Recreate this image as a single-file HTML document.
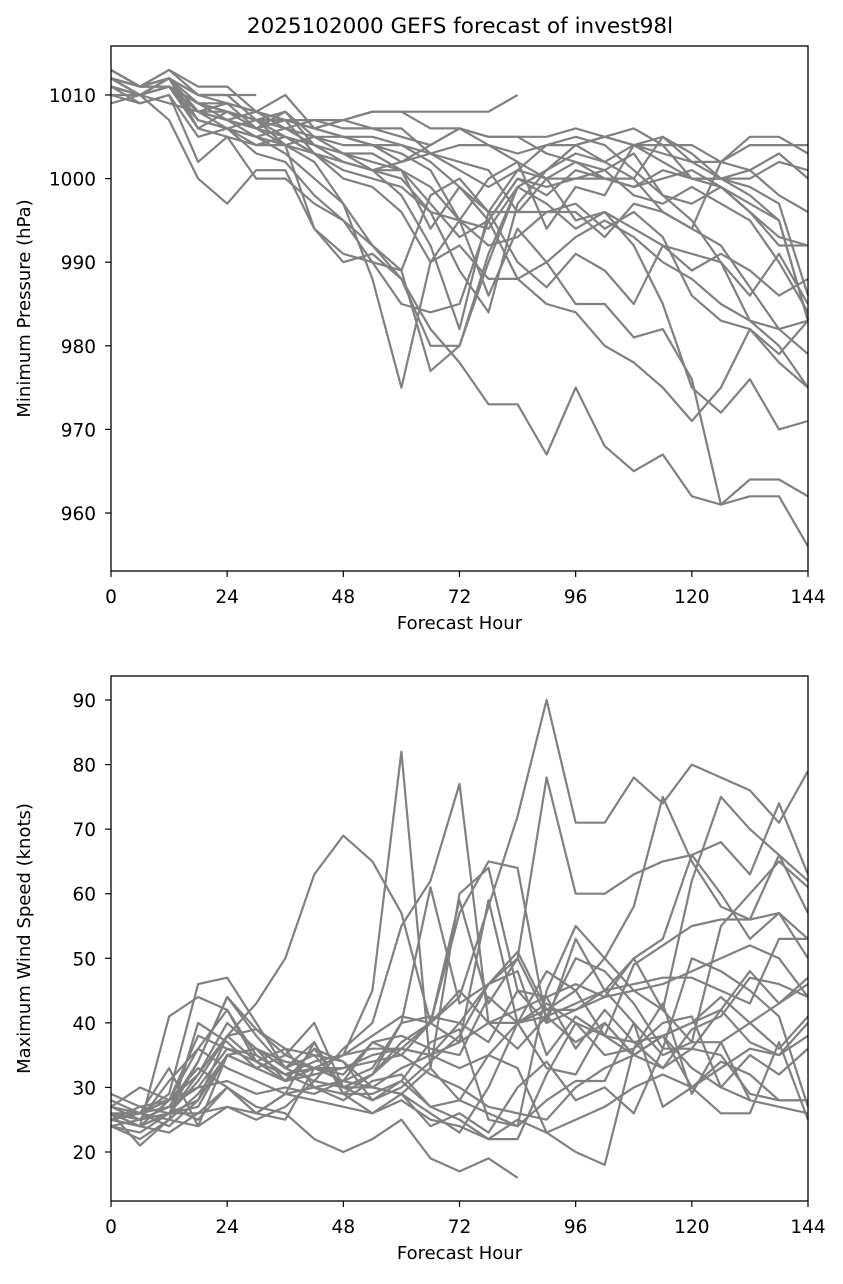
<!DOCTYPE html>
<html><head><meta charset="utf-8"><style>
body{margin:0;background:#fff;}
svg text{font-family:"DejaVu Sans","Liberation Sans",sans-serif;fill:#000;}
</style></head><body>
<svg id="fig" width="843" height="1279" viewBox="0 0 843 1279" xmlns="http://www.w3.org/2000/svg">
<rect width="843" height="1279" fill="#fff"/>
<text x="460" y="33" font-size="21.5" text-anchor="middle">2025102000 GEFS forecast of invest98l</text>
<g id="top"></g>
<g id="bot"></g>
</svg>
<script>
const hours = [0,6,12,18,24,30,36,42,48,54,60,66,72,78,84,90,96,102,108,114,120,126,132,138,144];
const xTicks = [0,24,48,72,96,120,144];
const pTicks = [960,970,980,990,1000,1010];
const wTicks = [20,30,40,50,60,70,80,90];
const pressure = [
[1011,1010,1012,1009,1008,1006,1004,1002,997,992,988,982,978,973,973,967,975,968,965,967,962,961,962,962,956],
[1012,1011,1012,1008,1007,1005,1003,1000,997,988,975,990,995,986,994,990,985,985,981,982,976,961,964,964,962],
[1011,1010,1007,1000,997,1001,1001,994,991,990,989,977,980,990,999,1001,1004,1005,1004,1002,1000,999,997,995,983],
[1013,1011,1013,1010,1010,1007,1004,994,990,991,988,980,980,991,999,1001,1004,1005,1004,1003,1002,1000,998,995,983],
[1012,1010,1011,1007,1006,1003,1002,998,995,990,985,984,985,995,1000,998,1001,1000,999,1001,1000,1000,999,997,986],
[1011,1010,1011,1006,1008,1007,1008,1004,1003,1001,998,992,982,996,990,987,991,989,985,992,991,990,983,980,975],
[1010,1010,1011,1009,1009,1008,1006,1005,1003,1002,1001,994,999,995,1000,999,1000,1000,1000,1005,1003,1000,1000,1002,1001],
[1012,1011,1013,1011,1011,1008,1010,1006,1007,1008,1008,1006,1006,1005,1005,1005,1006,1005,1006,1004,1004,1002,1004,1004,1004],
[1009,1010,1009,1008,1007,1008,1007,1007,1007,1008,1008,1008,1008,1008,1010],
[1012,1011,1012,1010,1010,1010],
[1011,1010,1012,1006,1005,1004,1005,1003,1001,1000,999,996,995,994,999,997,994,996,994,992,989,991,989,986,988],
[1012,1011,1011,1008,1007,1006,1005,1004,1002,1001,1000,996,989,984,997,1001,1003,1002,1004,1005,1002,1002,1005,1005,1003],
[1012,1010,1011,1009,1008,1006,1007,1006,1005,1005,1004,1003,1002,1001,996,1000,1002,1001,1003,998,995,990,986,991,985],
[1013,1011,1012,1007,1006,1007,1006,1004,1003,1003,1001,999,995,1000,1002,994,999,998,1004,1004,1000,1000,1001,998,996],
[1011,1009,1010,1005,1006,1004,1004,1005,1005,1004,1003,1001,995,992,993,996,996,993,997,996,994,992,987,982,983],
[1012,1010,1012,1008,1009,1006,1007,1003,1002,1001,1002,1003,1004,1004,1003,1004,1005,1004,1001,998,997,999,996,993,992],
[1011,1010,1011,1009,1007,1006,1008,1005,1004,1004,1002,1004,1006,1005,1005,1003,1002,1000,999,1000,1001,999,996,992,992],
[1012,1011,1011,1007,1006,1005,1006,1007,1006,1006,1006,1003,1001,999,1001,1000,1000,1001,998,997,999,997,995,990,984],
[1011,1010,1011,1009,1008,1007,1005,1003,1000,999,996,990,992,988,988,990,993,995,993,990,988,985,983,982,979],
[1012,1011,1012,1008,1008,1007,1007,1006,1007,1006,1005,1004,1006,1004,1002,1000,995,996,992,985,975,972,976,970,971],
[1013,1011,1012,1010,1009,1008,1007,1006,1005,1004,1004,1002,999,996,996,996,997,994,996,993,986,983,982,979,983],
[1011,1010,1012,1008,1006,1005,1004,1003,1002,1001,1001,997,993,995,988,985,984,980,978,975,971,975,982,978,975],
[1010,1009,1010,1002,1005,1000,1000,997,995,992,989,998,1000,996,1001,1004,1004,1002,1000,996,994,1002,1001,1003,1000]
];
const wind = [
[25,26,24,28,35,33,31,32,33,35,36,40,44,58,72,90,71,71,78,74,80,78,76,71,79],
[26,25,27,30,36,34,32,33,35,45,82,33,60,64,45,40,42,45,50,53,66,60,53,57,50],
[27,26,28,32,38,43,50,63,69,65,57,40,45,40,40,43,40,38,35,38,40,44,40,36,41],
[25,24,26,34,44,38,33,31,36,40,55,62,77,40,36,41,37,40,35,33,36,42,37,35,38],
[25,26,25,29,35,36,34,33,35,38,41,40,59,43,50,78,60,60,63,65,66,68,63,74,63],
[26,24,23,26,30,27,26,22,20,22,25,19,17,19,16],
[28,26,29,46,47,40,33,35,30,30,33,35,37,40,42,44,36,42,37,38,30,26,26,37,25],
[25,24,41,44,42,35,32,30,29,32,36,35,40,46,50,41,50,48,43,36,50,48,45,41,27],
[24,23,26,31,38,34,31,33,31,30,29,33,28,26,24,45,55,50,45,42,62,75,70,66,62],
[27,30,28,33,30,26,25,33,32,37,38,36,35,44,40,48,45,50,58,75,65,58,56,66,57],
[25,24,26,26,27,26,29,28,27,26,28,25,24,22,25,23,25,27,30,32,30,34,32,28,28],
[26,24,26,27,35,33,31,36,34,30,29,26,23,30,40,41,43,45,46,47,47,45,43,53,53],
[24,22,25,24,27,25,27,31,30,32,37,40,37,59,40,33,32,40,35,38,33,30,28,27,26],
[26,21,25,40,37,33,35,40,30,28,31,27,25,22,22,32,40,35,36,40,41,30,35,32,36],
[25,24,28,36,42,34,36,30,31,37,35,40,57,65,64,40,53,45,40,27,30,33,36,35,40],
[25,27,28,38,36,35,32,34,35,36,36,35,33,35,40,42,42,44,45,46,48,50,52,50,44],
[26,26,33,24,35,36,31,36,30,32,40,61,43,46,48,35,41,38,37,33,39,41,47,46,44],
[27,25,31,36,33,31,29,30,28,31,32,27,28,35,33,23,20,18,36,43,29,37,28],
[24,25,27,25,30,26,29,37,29,29,31,37,39,25,24,28,31,31,40,35,37,37,40,43,47],
[26,25,26,28,38,39,36,35,34,28,30,34,38,46,51,42,45,38,49,52,55,56,56,57,53],
[25,26,28,30,31,29,30,29,31,33,40,41,40,37,45,44,46,44,50,42,37,55,60,65,61],
[25,26,27,34,44,39,35,33,33,34,35,32,30,27,26,25,30,33,35,38,40,42,48,43,46],
[29,27,26,32,40,36,33,37,29,26,29,24,26,23,30,34,28,30,26,36,36,35,29,28,28]
];
const NS='http://www.w3.org/2000/svg';
function mk(tag, attrs, parent){const e=document.createElementNS(NS,tag);for(const k in attrs)e.setAttribute(k,attrs[k]);parent.appendChild(e);return e;}
function panel(g, x0,x1,y0,y1, vmin,vmax, yTicks, series, ylabel, prefix){
  const xs=h=>x0+(h/144)*(x1-x0);
  const ys=v=>y1-(v-vmin)/(vmax-vmin)*(y1-y0);
  series.forEach((s,i)=>{
    const pts=s.map((v,j)=>xs(hours[j]).toFixed(1)+','+ys(v).toFixed(1)).join(' ');
    const pl=mk('polyline',{points:pts,fill:'none',stroke:'#808080','stroke-width':2.2,'stroke-linejoin':'round'},g);
    
    
  });
  const fr=mk('rect',{x:x0,y:y0,width:x1-x0,height:y1-y0,fill:'none',stroke:'#000','stroke-width':1.3},g);
  
  
  xTicks.forEach(t=>{
    const x=xs(t);
    mk('line',{x1:x,x2:x,y1:y1,y2:y1+6,stroke:'#000','stroke-width':1.2},g);
    const tx=mk('text',{x:x,y:y1+32,'font-size':18.5,'text-anchor':'middle'},g);tx.textContent=t;
    
    
  });
  yTicks.forEach(t=>{
    const y=ys(t);
    mk('line',{x1:x0-6,x2:x0,y1:y,y2:y,stroke:'#000','stroke-width':1.2},g);
    const tx=mk('text',{x:x0-15,y:y+7,'font-size':18.5,'text-anchor':'end'},g);tx.textContent=t;
    
    
  });
  const xl=mk('text',{x:(x0+x1)/2,y:y1+58,'font-size':18,'text-anchor':'middle'},g);xl.textContent='Forecast Hour';
  
  
  const cy=(y0+y1)/2;
  const yl=mk('text',{x:30,y:cy,'font-size':18,'text-anchor':'middle',transform:'rotate(-90 30 '+cy+')'},g);yl.textContent=ylabel;
  
  
}
panel(document.getElementById('top'),111,808,46,571,953.06,1015.86,pTicks,pressure,'Minimum Pressure (hPa)','pressure');
panel(document.getElementById('bot'),111,808,676,1201,12.41,93.72,wTicks,wind,'Maximum Wind Speed (knots)','wind');
</script>
</body></html>
